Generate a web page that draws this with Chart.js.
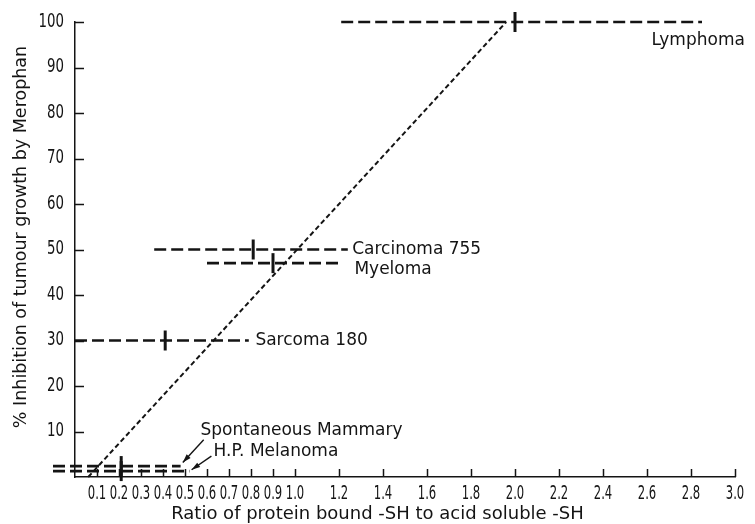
<!DOCTYPE html>
<html>
<head>
<meta charset="utf-8">
<script src="https://cdn.jsdelivr.net/npm/chart.js@4/dist/chart.umd.min.js"></script>
<style>
  html, body { margin: 0; padding: 0; background: #fff; }
  canvas { display: block; }
</style>
</head>
<body>
<canvas id="chart" width="755" height="524"></canvas>
<script>
// tumour lines: range of the SH ratio at the measured inhibition, with mean marked
const tumours = ["Lymphoma", "Carcinoma 755", "Myeloma", "Sarcoma 180", "Spontaneous Mammary", "H.P. Melanoma"];
const inhibition = [100, 50, 47, 30, 2.4, 1.3];
const ratioLow = [1.21, 0.36, 0.60, 0.0, -0.1, -0.1];
const ratioHigh = [2.85, 1.24, 1.21, 0.79, 0.48, 0.52];
const ratioMean = [2.0, 0.81, 0.90, 0.41, 0.21, 0.21];

// dotted trend line
const trendRatio = [0.06, 1.96];
const trendInhibition = [0, 100];

const xTicks = [0.1, 0.2, 0.3, 0.4, 0.5, 0.6, 0.7, 0.8, 0.9, 1.0, 1.2, 1.4, 1.6, 1.8, 2.0, 2.2, 2.4, 2.6, 2.8, 3.0];
const yTicks = [10, 20, 30, 40, 50, 60, 70, 80, 90, 100];

const xTitle = "Ratio of protein bound -SH to acid soluble -SH";
const yTitle = "% Inhibition of tumour growth by Merophan";

// where each tumour name sits (data units), and optional pointer arrows
const labelAt = [
  { x: 2.62, y: 96 },
  { x: 1.26, y: 50 },
  { x: 1.27, y: 45.6 },
  { x: 0.82, y: 30 },
  { x: 0.57, y: 10.1 },
  { x: 0.63, y: 5.5 }
];
const arrows = [
  null, null, null, null,
  { from: { x: 0.585, y: 8.2 }, to: { x: 0.49, y: 3.2 } },
  { from: { x: 0.62, y: 4.6 }, to: { x: 0.53, y: 1.6 } }
];

const INK = "#141414";
const LABEL_FONT = "17px 'DejaVu Sans', sans-serif";
const X_TITLE_FONT = "18px 'DejaVu Sans', sans-serif";
const Y_TITLE_FONT = "17.5px 'DejaVu Sans', sans-serif";
const NUM_FONT = "19px 'DejaVu Sans Condensed', 'DejaVu Sans', sans-serif";

const rangeSets = tumours.map((name, i) => ({
  label: name,
  data: [{ x: ratioLow[i], y: inhibition[i] }, { x: ratioHigh[i], y: inhibition[i] }],
  showLine: true,
  borderColor: INK,
  borderWidth: 2.7,
  borderDash: [12, 5],
  pointRadius: 0,
  clip: false
}));

const meanSet = {
  label: "mean",
  data: tumours.map((_, i) => ({ x: ratioMean[i], y: inhibition[i] })),
  showLine: false,
  pointStyle: "line",
  rotation: 90,
  pointRadius: 10,
  borderColor: INK,
  borderWidth: 3,
  clip: false
};

const trendSet = {
  label: "trend",
  data: trendRatio.map((x, i) => ({ x: x, y: trendInhibition[i] })),
  showLine: true,
  borderColor: INK,
  borderWidth: 2,
  borderDash: [5, 3],
  pointRadius: 0,
  clip: false
};

function fmtX(v) { return v.toFixed(1); }

const paperPlugin = {
  id: "paper",
  afterDraw(chart) {
    const { ctx, chartArea: area } = chart;
    const xs = chart.scales.x, ys = chart.scales.y;
    ctx.save();
    ctx.strokeStyle = INK;
    ctx.fillStyle = INK;
    ctx.lineWidth = 1.5;

    // inward tick marks
    ctx.beginPath();
    xTicks.forEach(v => {
      const px = Math.round(xs.getPixelForValue(v)) + 0.5;
      ctx.moveTo(px, area.bottom);
      ctx.lineTo(px, area.bottom - 8);
    });
    yTicks.forEach(v => {
      const py = Math.round(ys.getPixelForValue(v)) + 0.5;
      ctx.moveTo(area.left, py);
      ctx.lineTo(area.left + 9, py);
    });
    ctx.stroke();

    // narrow tick numbers
    ctx.font = NUM_FONT;
    ctx.textBaseline = "middle";
    ctx.textAlign = "center";
    xTicks.forEach(v => {
      ctx.save();
      ctx.translate(xs.getPixelForValue(v), area.bottom + 17);
      ctx.scale(0.68, 1);
      ctx.fillText(fmtX(v), 0, 0);
      ctx.restore();
    });
    ctx.textAlign = "right";
    yTicks.forEach(v => {
      ctx.save();
      ctx.translate(area.left - 11, ys.getPixelForValue(v));
      ctx.scale(0.78, 1);
      ctx.fillText(String(v), 0, 0);
      ctx.restore();
    });

    // axis titles
    ctx.textAlign = "center";
    ctx.font = X_TITLE_FONT;
    ctx.fillText(xTitle, chart.width / 2, area.bottom + 37);
    ctx.font = Y_TITLE_FONT;
    ctx.save();
    ctx.translate(21, 237);
    ctx.rotate(-Math.PI / 2);
    ctx.fillText(yTitle, 0, 0);
    ctx.restore();

    // tumour names and pointers
    ctx.font = LABEL_FONT;
    ctx.textAlign = "left";
    tumours.forEach((name, i) => {
      const p = labelAt[i];
      ctx.fillText(name, xs.getPixelForValue(p.x), ys.getPixelForValue(p.y));
      const a = arrows[i];
      if (!a) return;
      const x1 = xs.getPixelForValue(a.from.x), y1 = ys.getPixelForValue(a.from.y);
      const x2 = xs.getPixelForValue(a.to.x), y2 = ys.getPixelForValue(a.to.y);
      const ang = Math.atan2(y2 - y1, x2 - x1);
      ctx.lineWidth = 1.4;
      ctx.beginPath();
      ctx.moveTo(x1, y1);
      ctx.lineTo(x2, y2);
      ctx.stroke();
      ctx.beginPath();
      ctx.moveTo(x2, y2);
      ctx.lineTo(x2 - 9 * Math.cos(ang - 0.3), y2 - 9 * Math.sin(ang - 0.3));
      ctx.lineTo(x2 - 9 * Math.cos(ang + 0.3), y2 - 9 * Math.sin(ang + 0.3));
      ctx.closePath();
      ctx.fill();
    });
    ctx.restore();
  }
};

new Chart(document.getElementById("chart"), {
  type: "scatter",
  data: { datasets: [trendSet, ...rangeSets, meanSet] },
  options: {
    responsive: false,
    animation: false,
    layout: { padding: { top: 22, right: 20, left: 0, bottom: 0 } },
    plugins: { legend: { display: false }, tooltip: { enabled: false } },
    scales: {
      x: {
        type: "linear",
        min: 0,
        max: 3,
        afterBuildTicks: s => { s.ticks = xTicks.map(v => ({ value: v })); },
        afterFit: s => { s.height = 47; },
        ticks: { display: false },
        grid: { display: false, drawTicks: false },
        border: { display: true, color: INK, width: 1.5 }
      },
      y: {
        type: "linear",
        min: 0,
        max: 100,
        afterBuildTicks: s => { s.ticks = yTicks.map(v => ({ value: v })); },
        afterFit: s => { s.width = 75; },
        ticks: { display: false },
        grid: { display: false, drawTicks: false },
        border: { display: true, color: INK, width: 1.5 }
      }
    }
  },
  plugins: [paperPlugin]
});
</script>
</body>
</html>
